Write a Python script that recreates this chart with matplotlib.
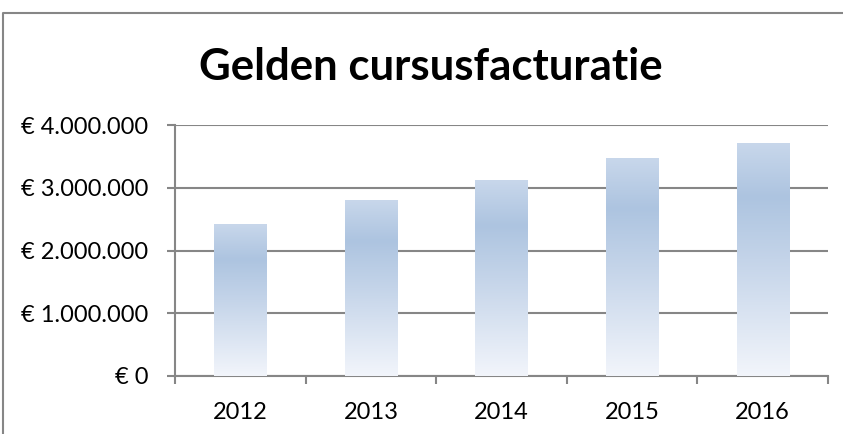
import matplotlib
matplotlib.use("Agg")
import matplotlib.pyplot as plt
import numpy as np
from matplotlib.colors import LinearSegmentedColormap
from matplotlib.lines import Line2D
from matplotlib.ticker import FuncFormatter, FixedLocator

years = ["2012", "2013", "2014", "2015", "2016"]
values = [2410000, 2790000, 3110000, 3470000, 3700000]
yticks = [0, 1000000, 2000000, 3000000, 4000000]
title = "Gelden cursusfacturatie"

plt.rcParams['font.family'] = ['Lato', 'DejaVu Sans']

W, H = 843, 434
fig = plt.figure(figsize=(W / 100, H / 100), dpi=100)
ax = fig.add_axes([175 / W, 1 - 376 / H, (828 - 175) / W, (376 - 125) / H])

grid_c = "#868686"
x = np.arange(len(years))
bars = ax.bar(x, values, width=0.4, color="none", edgecolor="none", zorder=3)

cmap = LinearSegmentedColormap.from_list(
    "g", [(0.0, "#f2f5fb"), (0.5, "#c4d4e9"), (0.77, "#adc4e0"), (1.0, "#c8d7eb")])
grad = np.linspace(0, 1, 256).reshape(-1, 1)
for b in bars:
    x0, w, h = b.get_x(), b.get_width(), b.get_height()
    ax.imshow(grad, extent=[x0, x0 + w, 0, h], origin="lower", cmap=cmap,
              aspect="auto", zorder=3, interpolation="bicubic")

ax.set_xlim(-0.5, len(years) - 0.5)
ax.set_ylim(0, 4000000)
ax.set_yticks(yticks)
ax.yaxis.set_major_formatter(FuncFormatter(
    lambda v, p: "€ " + f"{int(v):,}".replace(",", ".")))
ax.yaxis.grid(True, color=grid_c, linewidth=1.5, zorder=1)
ax.set_axisbelow(True)

ax.xaxis.set_major_locator(FixedLocator(np.arange(-0.5, len(years), 1.0)))
ax.xaxis.set_major_formatter(FuncFormatter(lambda v, p: ""))
ax.xaxis.set_minor_locator(FixedLocator(x))
ax.set_xticklabels(years, minor=True)
ax.tick_params(axis="x", which="major", length=6, width=1.5, color=grid_c, direction="out")
ax.tick_params(axis="x", which="minor", length=0, labelsize=17, pad=19)
ax.tick_params(axis="y", length=6, width=1.5, color=grid_c, labelsize=17, pad=13)

for s in ["top", "right"]:
    ax.spines[s].set_visible(False)
for s in ["left", "bottom"]:
    ax.spines[s].set_color(grid_c)
    ax.spines[s].set_linewidth(1.5)

fig.text(431 / W, 1 - 80 / H, title, ha="center", va="baseline",
         fontsize=31.5, fontweight="bold")

fig.add_artist(Line2D([3.5 / W, 3.5 / W, 1.0], [0.0, 1 - 12.5 / H, 1 - 12.5 / H],
                      transform=fig.transFigure, color=grid_c, linewidth=1.5))

fig.savefig("out.png", dpi=100)
